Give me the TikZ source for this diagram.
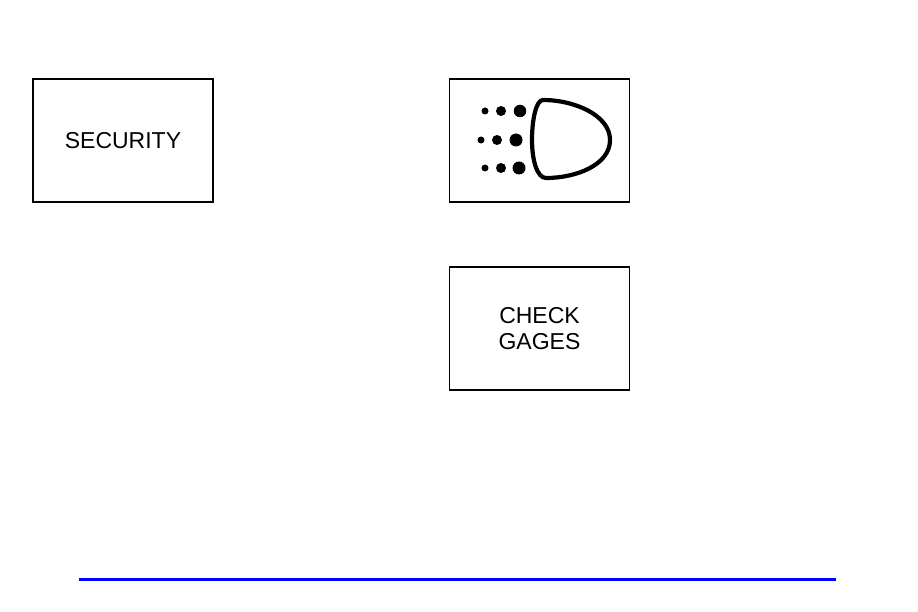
\documentclass[tikz,border=0pt]{standalone}
\usepackage{fontspec}
\setmainfont{Liberation Sans}
\tikzset{
  panel/.style={draw=black, line width=1.2pt, inner sep=0pt, align=center, font=\fontsize{23}{26}\selectfont},
  spot/.style={circle, fill=black, inner sep=0pt, minimum size=#1}
}
\begin{document}
\begin{tikzpicture}[x=1pt, y=-1pt]
  \useasboundingbox (0,0) rectangle (918,612);

  \node[panel, minimum width=180pt, minimum height=123pt] (nSecurity) at (123,140.5) {SECURITY};
  \node[panel, minimum width=179.5pt, minimum height=123pt] (nLamp) at (539.5,140.5) {};
  \node[panel, minimum width=179.5pt, minimum height=123pt] (nGages) at (539.5,328.5) {CHECK\\GAGES};

  \node[spot=7pt] (s1) at (485,111) {};
  \node[spot=10pt] (s2) at (501,111) {};
  \node[spot=12.5pt] (s3) at (520,111) {};
  \node[spot=7pt] (s4) at (481,140) {};
  \node[spot=10pt] (s5) at (497,140) {};
  \node[spot=13pt] (s6) at (516,140) {};
  \node[spot=7pt] (s7) at (485,168) {};
  \node[spot=10pt] (s8) at (501,168) {};
  \node[spot=13pt] (s9) at (519,168) {};

  \draw[line width=4.2pt, line join=round] (543,100)
    .. controls (574,100) and (610,115) .. (610,140)
    .. controls (610,165) and (576,178) .. (546,178)
    .. controls (537,178) and (532,160) .. (532,140)
    .. controls (532,120) and (536,100) .. (543,100) -- cycle;

  \coordinate (rLeft) at (79,579);
  \coordinate (rRight) at (836,579);
  \draw[blue, line width=3pt] (rLeft) -- (rRight);
\end{tikzpicture}
\end{document}
